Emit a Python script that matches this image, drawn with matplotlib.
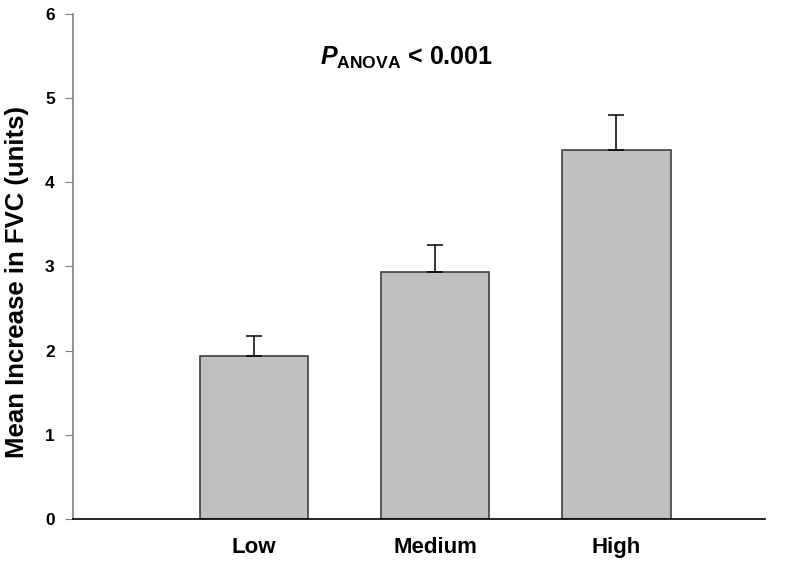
import matplotlib
matplotlib.use("Agg")
import matplotlib.pyplot as plt

plt.rcParams['font.family'] = ['Liberation Sans', 'DejaVu Sans']
plt.rcParams['mathtext.fontset'] = 'custom'
plt.rcParams['mathtext.it'] = 'Liberation Sans:italic:bold'
plt.rcParams['mathtext.bf'] = 'Liberation Sans:bold'
plt.rcParams['mathtext.rm'] = 'Liberation Sans:bold'

groups = ["Low", "Medium", "High"]
means = [1.94, 2.93, 4.38]
errors = [0.23, 0.33, 0.42]
positions = [1, 2, 3]

fig = plt.figure(figsize=(8, 5.61), dpi=100)
ax = fig.add_axes([0.091, 0.075, 0.865, 0.9])

ax.bar(positions, means, width=0.6, color='#c0c0c0', edgecolor='#404040', linewidth=1.2, zorder=2)
ax.errorbar(positions, means, yerr=[[0, 0, 0], errors], fmt='none', ecolor='black',
            elinewidth=1.1, capsize=5.5, capthick=1.1, zorder=3)

ax.set_xlim(0, 3.82)
ax.set_ylim(0, 6)
ax.set_xticks(positions)
ax.set_xticklabels(groups, fontsize=16, fontweight='bold')
ax.set_yticks(range(0, 7))
ax.set_yticklabels([str(v) for v in range(0, 7)], fontsize=12.5, fontweight='bold')
ax.tick_params(axis='x', length=0, pad=13)
ax.tick_params(axis='y', length=6, color='#808080', pad=7)

ax.spines['top'].set_visible(False)
ax.spines['right'].set_visible(False)
ax.spines['left'].set_color('#808080')
ax.spines['bottom'].set_color('black')
ax.spines['left'].set_linewidth(1.2)
ax.spines['bottom'].set_linewidth(1.2)

ax.set_ylabel('Mean Increase in FVC (units)', fontsize=18.5, fontweight='bold')
ax.yaxis.set_label_coords(-0.064, 0.47)

ax.text(1.84, 5.48, r'$\mathit{P}_{\mathbf{ANOVA}}$ < 0.001', fontsize=18, fontweight='bold',
        ha='center', va='center')

fig.savefig('out.png', dpi=100)
